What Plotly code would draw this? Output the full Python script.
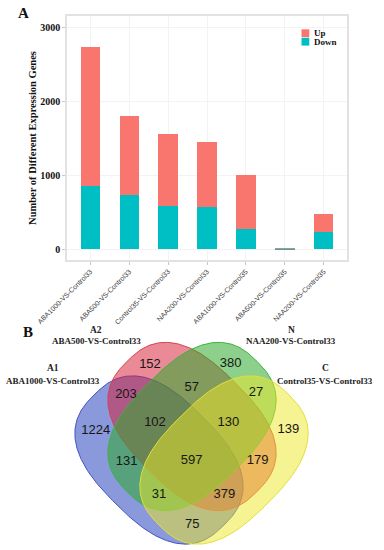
import numpy as np
import plotly.graph_objects as go

# ---------------- data ----------------
categories = ["ABA1000-VS-Control33", "ABA500-VS-Control33", "Control35-VS-Control33",
              "NAA200-VS-Control33", "ABA1000-VS-Control35", "ABA500-VS-Control35",
              "NAA200-VS-Control35"]
down_counts = [860, 734, 585, 571, 270, 6, 238]
up_counts = [1878, 1063, 969, 879, 730, 4, 243]
y_ticks = [0, 1000, 2000, 3000]

set_codes = ["A1", "A2", "N", "C"]
set_names = ["ABA1000-VS-Control33", "ABA500-VS-Control33", "NAA200-VS-Control33", "Control35-VS-Control33"]
venn_regions = ["A1", "A2", "N", "C", "A1A2", "A2N", "NC", "A1A2N", "A2NC", "A1N", "A1A2NC",
                "A2C", "A1NC", "A1A2C", "A1C"]
venn_counts = [1224, 152, 380, 139, 203, 57, 27, 102, 130, 131, 597, 179, 31, 379, 75]

# ---------------- styles / layout ----------------
W, H = 384, 550
SERIF = "Liberation Serif, Times New Roman, serif"
SANS = "Liberation Sans, Arial, sans-serif"
UP_COLOR, DOWN_COLOR = "#F8766D", "#00BFC4"

# bar panel area in pixels
px_l, px_r, px_t, px_b = 67, 347, 16, 260

# venn geometry (pixel space): rounded (super-elliptic) set shapes
ell = {
    "A1": dict(cx=159, cy=460, ang=45, fill="rgba(40,70,190,0.55)", line="#4353c4"),
    "A2": dict(cx=192, cy=426.5, ang=45, fill="rgba(215,30,55,0.52)", line="#d8404e"),
    "N": dict(cx=192, cy=426.5, ang=-45, fill="rgba(45,170,45,0.55)", line="#3db33d"),
    "C": dict(cx=224, cy=460, ang=-45, fill="rgba(238,232,40,0.5)", line="#e3df3a"),
}
SEMI_A, SEMI_B, SUPER_N = 92, 61.5, 2.6
label_pos = {
    "A1": (95.7, 430.7), "A2": (150, 365), "N": (230.7, 363.3), "C": (288.3, 430),
    "A1A2": (126, 395), "A2N": (191.7, 387.7), "NC": (256, 392.7), "A1A2N": (155, 422.3),
    "A2NC": (228.3, 422.7), "A1N": (126.7, 461.7), "A1A2NC": (191.7, 461), "A2C": (257.7, 461),
    "A1NC": (159, 495), "A1A2C": (224.3, 495), "A1C": (192.3, 525),
}
set_label_pos = {"A1": (53, 368, 381), "A2": (96, 330, 341), "N": (291, 330, 341), "C": (325, 368, 381)}

fig = go.Figure()

# ---------------- panel A: stacked bars ----------------
fig.add_trace(go.Bar(x=categories, y=down_counts, name="Down", marker_color=DOWN_COLOR,
                     marker_line_width=0, width=0.5, showlegend=False, xaxis="x", yaxis="y"))
fig.add_trace(go.Bar(x=categories, y=up_counts, name="Up", marker_color=UP_COLOR,
                     marker_line_width=0, width=0.5, showlegend=False, xaxis="x", yaxis="y"))

# ---------------- panel B: venn ----------------
t = np.linspace(0, 2 * np.pi, 361)
ex = 2.0 / SUPER_N
cu = np.sign(np.cos(t)) * np.abs(np.cos(t)) ** ex
sv = np.sign(np.sin(t)) * np.abs(np.sin(t)) ** ex
for code in set_codes:
    e = ell[code]
    th = np.deg2rad(e["ang"])
    xs = e["cx"] + SEMI_A * cu * np.cos(th) - SEMI_B * sv * np.sin(th)
    ys = e["cy"] + SEMI_A * cu * np.sin(th) + SEMI_B * sv * np.cos(th)
    fig.add_trace(go.Scatter(x=xs, y=ys, mode="lines", fill="toself", fillcolor=e["fill"],
                             line=dict(color=e["line"], width=1), hoverinfo="skip",
                             showlegend=False, xaxis="x2", yaxis="y2"))

fig.add_trace(go.Scatter(
    x=[label_pos[r][0] for r in venn_regions], y=[label_pos[r][1] for r in venn_regions],
    text=[str(v) for v in venn_counts], mode="text",
    textfont=dict(family=SANS, size=13, color="#161616"),
    showlegend=False, hoverinfo="skip", xaxis="x2", yaxis="y2"))

annotations = []
for code, name in zip(set_codes, set_names):
    x, y1, y2 = set_label_pos[code]
    annotations.append(dict(x=x, y=y1, xref="x2", yref="y2", text=f"<b>{code}</b>", showarrow=False,
                            font=dict(family=SERIF, size=9.5, color="#222")))
    annotations.append(dict(x=x, y=y2, xref="x2", yref="y2", text=f"<b>{name}</b>", showarrow=False,
                            font=dict(family=SERIF, size=9, color="#222")))

# panel letters
annotations.append(dict(x=23, y=13, xref="x2", yref="y2", text="<b>A</b>", showarrow=False,
                        font=dict(family=SERIF, size=15, color="#111")))
annotations.append(dict(x=28, y=332, xref="x2", yref="y2", text="<b>B</b>", showarrow=False,
                        font=dict(family=SERIF, size=15, color="#111")))

# legend (manual, ggplot-like compact keys)
shapes = []
for i, (lab, col) in enumerate([("Up", UP_COLOR), ("Down", DOWN_COLOR)]):
    y0 = 29.3 + i * 8.5
    shapes.append(dict(type="rect", xref="x2", yref="y2", x0=301.5, x1=309.3, y0=y0, y1=y0 + 7.8,
                       fillcolor=col, line=dict(width=0), layer="above"))
    annotations.append(dict(x=311.5, y=y0 + 3.9, xref="x2", yref="y2", text=f"<b>{lab}</b>",
                            showarrow=False, xanchor="left",
                            font=dict(family=SERIF, size=9, color="#111")))

fig.update_layout(
    template="none",
    width=W, height=H, autosize=False,
    margin=dict(l=0, r=0, t=0, b=0, pad=0),
    paper_bgcolor="white", plot_bgcolor="rgba(0,0,0,0)",
    barmode="stack", bargap=0.5,
    xaxis=dict(domain=[px_l / W, px_r / W], anchor="y", type="category", range=[-0.6, 6.6],
               automargin=False,
               tickangle=-45, tickfont=dict(family=SANS, size=7, color="#3a3a3a"),
               ticks="outside", ticklen=3, tickcolor="#c8c8c8",
               showgrid=True, gridcolor="#f3f3f3", gridwidth=0.6,
               showline=True, linecolor="#e2e2e2", linewidth=1.5, mirror=True, fixedrange=True),
    yaxis=dict(domain=[1 - px_b / H, 1 - px_t / H], anchor="x", range=[-145, 3153],
               automargin=False,
               tickvals=y_ticks, tickfont=dict(family=SERIF, size=10, color="#111", weight="bold"),
               ticks="outside", ticklen=3, tickcolor="#c8c8c8",
               showgrid=True, gridcolor="#f3f3f3", gridwidth=0.6, zeroline=False,
               showline=True, linecolor="#e2e2e2", linewidth=1.5, mirror=True, fixedrange=True,
               title=dict(text="<b>Number of Different Expression Genes</b>", standoff=2,
                          font=dict(family=SERIF, size=10.5, color="#111"))),
    xaxis2=dict(domain=[0, 1], anchor="y2", range=[0, W], visible=False, fixedrange=True,
                automargin=False),
    yaxis2=dict(domain=[0, 1], anchor="x2", range=[H, 0], visible=False, fixedrange=True,
                automargin=False),
    annotations=annotations, shapes=shapes,
)

fig.write_html("out.html", config={"displayModeBar": False},
               post_script="document.body.style.margin='0';")
